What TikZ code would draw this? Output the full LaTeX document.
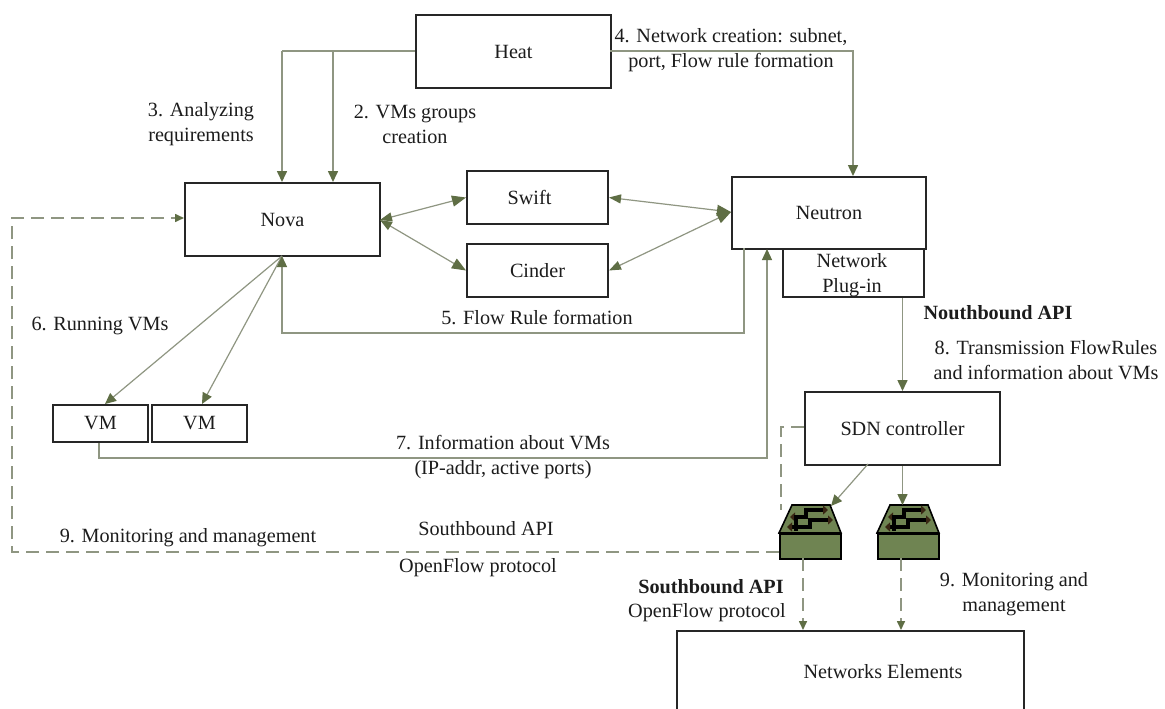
\documentclass[tikz,border=0pt]{standalone}
\usepackage{fontspec}
\setmainfont{Liberation Serif}
\usetikzlibrary{arrows.meta,calc}
\definecolor{lineol}{HTML}{8F9682}
\definecolor{tipol}{HTML}{5F6E45}
\definecolor{swgreen}{HTML}{6F8452}
\definecolor{txt}{HTML}{1C1C1C}
\tikzset{
 x=1pt,y=-1pt,
 boxn/.style={draw=black!85,line width=2pt,fill=white,inner sep=0pt,anchor=north west,font=\fontsize{20.2}{25}\selectfont,align=center,text=txt},
 lab/.style={inner sep=0pt,font=\fontsize{20.2}{25}\selectfont,text=txt,align=center},
 blab/.style={lab,font=\fontsize{20.2}{25}\bfseries\selectfont},
 conn/.style={draw=lineol,line width=1.6pt},
 thin conn/.style={draw=lineol,line width=1.2pt},
 ah/.style={-{Triangle[length=11pt,width=10pt,color=tipol]}},
 sah/.style={-{Triangle[length=9pt,width=8pt,color=tipol]}},
 ahh/.style={{Triangle[length=12pt,width=9pt,color=tipol]}-{Triangle[length=14pt,width=11pt,color=tipol]}},
 dsh/.style={dash pattern=on 13pt off 7pt},
 swbase/.style={draw=black,line width=1.8pt,fill=swgreen,inner sep=0pt,anchor=north west,minimum width=61pt,minimum height=25pt},
 swarrow/.style={draw=black,line width=3.4pt,{Triangle[length=5pt,width=9pt,color=black!70!brown]}-{Triangle[length=5pt,width=9pt,color=black!70!brown]}}
}
\newcommand{\boxat}[6]{\node[boxn,minimum width=#4,minimum height=#5] (#1) at (#2,#3) {#6};}
\newcommand{\swicon}[2]{%
 \path[draw=black,line width=1.6pt,fill=swgreen] (#2+13,505) -- (#2+51,505) -- (#2+62,533) -- (#2,533) -- cycle;
 \node[swbase] (#1) at (#2,533) {};
 \draw[swarrow] (#2+11,517) -- (#2+27,517) -- (#2+27,510) -- (#2+49,510);
 \draw[swarrow] (#2+8,527) -- (#2+31,527) -- (#2+31,520) -- (#2+54,520);
 \draw[black,line width=3.4pt] (#2+17,515) -- (#2+17,531);
}
\begin{document}
\begin{tikzpicture}
\useasboundingbox (0,0) rectangle (1165,709);
\fill[white] (0,0) rectangle (1165,709);
\coordinate (hl) at (415,51);
\coordinate (hr) at (610,51);
\coordinate (h1) at (282,51);
\coordinate (h2) at (333,51);
\coordinate (nr) at (853,51);
\coordinate (n1) at (282,182);
\coordinate (n2) at (333,182);
\coordinate (n3) at (853,176);
\coordinate (nvr) at (380,220);
\coordinate (ntl) at (731,212);
\coordinate (nvb) at (282,256);
\coordinate (fr1) at (744,248);
\coordinate (fr2) at (744,333);
\coordinate (fr3) at (282,333);
\coordinate (vmc) at (99,458);
\coordinate (vmd) at (767,458);
\coordinate (vme) at (767,249);
\coordinate (dsw) at (12,552);
\coordinate (dup) at (12,218);
\coordinate (dnv) at (184,218);
\coordinate (d1) at (781,427);
\coordinate (d2) at (781,510);
\coordinate (swtop) at (0,505);
\coordinate (swa1) at (831,506);
\coordinate (sdn1) at (868,464);
\coordinate (sa) at (803,558);
\coordinate (sb) at (901,558);
\coordinate (vta) at (105,404);
\coordinate (vtb) at (202,404);

\boxat{heat}{415}{14}{195pt}{73pt}{Heat}
\boxat{nova}{184}{182}{195pt}{73pt}{Nova}
\boxat{swift}{466}{170}{141pt}{53pt}{Swift\hspace{16pt}}
\boxat{cinder}{466}{243}{141pt}{53pt}{Cinder}
\boxat{plug}{782}{240}{141pt}{56pt}{}
\boxat{neutron}{731}{176}{194pt}{72pt}{Neutron}
\boxat{vma}{52}{404}{95pt}{37pt}{VM}
\boxat{vmb}{151}{404}{95pt}{37pt}{VM}
\boxat{sdn}{804}{391}{195pt}{73pt}{SDN controller}
\boxat{elems}{676}{630}{347pt}{90pt}{}

\swicon{swa}{779}
\swicon{swb}{877}

\draw[conn] (hl) -- (h1);
\draw[conn,ah] (h1) -- (n1);
\draw[conn,ah] (h2) -- (n2);
\draw[conn,ah] (hr) -- (nr) -- (n3);
\draw[thin conn,ahh] (nvr) -- (swift.west);
\draw[thin conn,ahh] (nvr) -- (cinder.west);
\draw[thin conn,ahh] (swift.east) -- (ntl);
\draw[thin conn,ahh] (cinder.east) -- (ntl);
\draw[thin conn,ah] (nvb) -- (vta);
\draw[thin conn,ah] (nvb) -- (vtb);
\draw[thin conn,ah] (fr1) -- (fr2) -- (fr3) -- (nvb);
\draw[thin conn,ah] (vma.south -| vmc) -- (vmc) -- (vmd) -- (vme);
\draw[conn,ah] (plug.south -| sdn.north) -- (sdn.north);
\draw[conn,ah] (sdn.south) -- (sdn.south |- swtop);
\draw[thin conn,ah] (sdn1) -- (swa1);
\draw[conn,sah,dsh] (swa.west |- dsw) -- (dsw) -- (dup) -- (dnv);
\draw[conn,dsh] (sdn.west |- d1) -- (d1) -- (d2);
\draw[conn,sah,dsh] (sa) -- (sa |- elems.north);
\draw[conn,sah,dsh] (sb) -- (sb |- elems.north);

\node[lab] (l3) at (201,124) {3. Analyzing\\requirements};
\node[lab] (l2) at (415,124) {2. VMs groups\\creation};
\node[lab] (l4) at (731,50) {4. Network creation: subnet,\\port, Flow rule formation};
\node[lab] (l6) at (100,326) {6. Running VMs};
\node[lab] (l5) at (537,318) {5. Flow Rule formation};
\node[lab] (l7) at (503,457) {7. Information about VMs\\(IP-addr, active ports)};
\node[blab] (lnb) at (998,313) {Nouthbound API};
\node[lab] (l8) at (1046,360) {8. Transmission FlowRules\\and information about VMs};
\node[lab] (lplug) at (852,275) {Network\\Plug-in};
\node[lab] (l9) at (188,538) {9. Monitoring and management};
\node[lab] (ls) at (486,529) {Southbound API};
\node[lab] (lo) at (478,568) {OpenFlow protocol};
\node[blab] (lsb) at (711,587) {Southbound API};
\node[lab] (lo2) at (707,613) {OpenFlow protocol};
\node[lab] (l92) at (1014,594) {9. Monitoring and\\management};
\node[lab] (lel) at (883,672) {Networks Elements};
\end{tikzpicture}
\end{document}
